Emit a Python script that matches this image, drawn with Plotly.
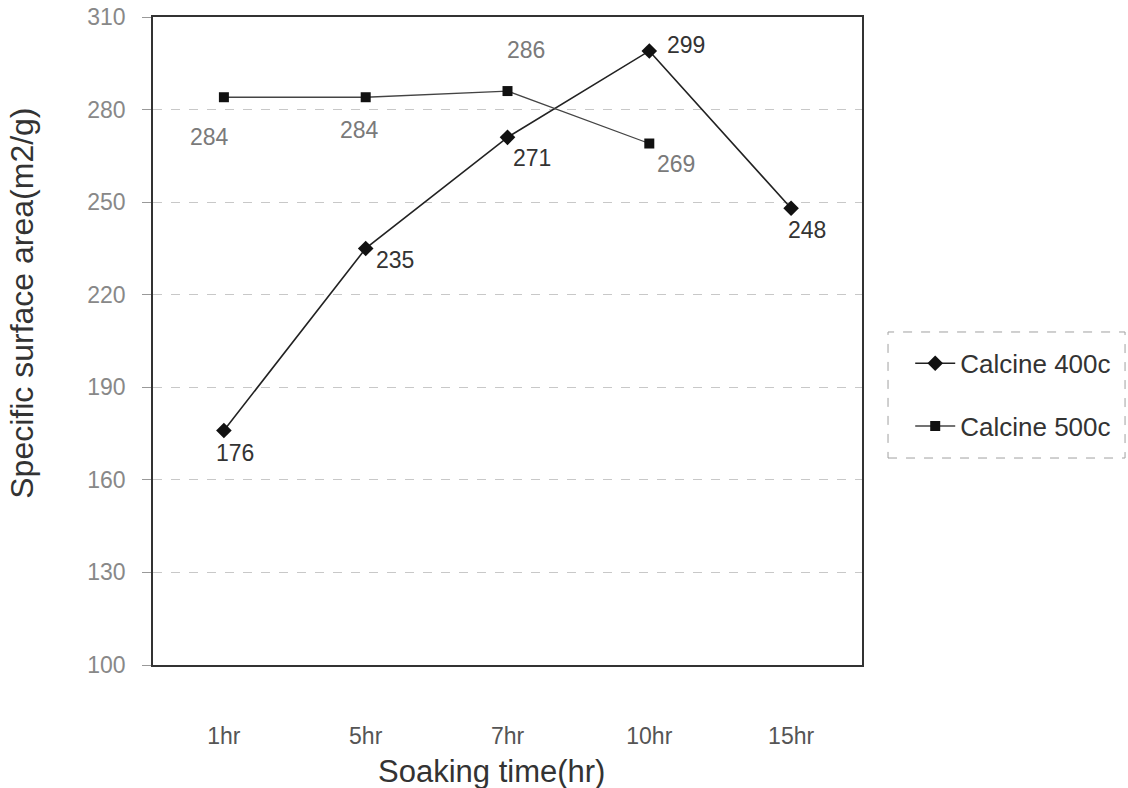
import plotly.graph_objects as go

categories = ["1hr", "5hr", "7hr", "10hr", "15hr"]
calcine_400 = [176, 235, 271, 299, 248]
calcine_500 = [284, 284, 286, 269]
y_ticks = [100, 130, 160, 190, 220, 250, 280, 310]
x_title = "Soaking time(hr)"
y_title = "Specific surface area(m2/g)"

# label offsets in pixels (style only)
off_400 = [(11, -23), (29, -12), (24, -21), (37, 6), (16, -22)]
off_500 = [(-14, -40), (-6, -33), (18, 41), (27, -20)]

FONT = "Liberation Sans, Arial, sans-serif"

fig = go.Figure()
fig.add_trace(go.Scatter(
    x=categories, y=calcine_400, name="Calcine 400c", mode="lines+markers",
    line=dict(color="#222222", width=1.6),
    marker=dict(symbol="diamond", size=12, color="#111111"),
    legendgroup="a",
))
fig.add_trace(go.Scatter(
    x=categories[:len(calcine_500)], y=calcine_500, name="Calcine 500c", mode="lines+markers",
    line=dict(color="#444444", width=1.3),
    marker=dict(symbol="square", size=10, color="#111111"),
    legendgroup="b",
))

anns = []
for c, v, (dx, dy) in zip(categories, calcine_400, off_400):
    anns.append(dict(x=c, y=v, text=str(v), showarrow=False, xshift=dx, yshift=dy,
                     font=dict(family=FONT, size=23, color="#333333")))
for c, v, (dx, dy) in zip(categories, calcine_500, off_500):
    anns.append(dict(x=c, y=v, text=str(v), showarrow=False, xshift=dx, yshift=dy,
                     font=dict(family=FONT, size=23, color="#7a7a7a")))

# axis titles as paper annotations
anns.append(dict(x=0.478, y=-0.165, xref="paper", yref="paper", text=x_title,
                 showarrow=False, xanchor="center", yanchor="middle",
                 font=dict(family=FONT, size=31, color="#333333")))
anns.append(dict(x=-0.1848, y=0.559, xref="paper", yref="paper", text=y_title,
                 showarrow=False, xanchor="center", yanchor="middle", textangle=-90,
                 font=dict(family=FONT, size=32, color="#333333")))

fig.update_layout(
    width=1128, height=788,
    margin=dict(l=153, r=266, t=17, b=123, autoexpand=False),
    paper_bgcolor="white", plot_bgcolor="white",
    font=dict(family=FONT),
    annotations=anns,
    showlegend=True,
    legend=dict(
        x=1.068, xanchor="left", y=0.417, yanchor="middle",
        borderwidth=0, bgcolor="rgba(0,0,0,0)",
        font=dict(family=FONT, size=26, color="#333333"),
        tracegroupgap=26, itemwidth=40,
    ),
    shapes=[dict(type="rect", xref="paper", yref="paper",
                 x0=1.0367, x1=1.371, y0=0.3194, y1=0.5139,
                 line=dict(color="#a0a0a0", width=1, dash="dash"),
                 fillcolor="rgba(0,0,0,0)", layer="below")],
)
fig.update_xaxes(
    type="category", categoryorder="array", categoryarray=categories,
    range=[-0.5, 4.5], automargin=False,
    showline=True, linecolor="#333333", linewidth=1.5, mirror=True,
    showgrid=False, ticks="", ticklabelstandoff=50,
    tickfont=dict(family=FONT, size=23, color="#555555"),
)
fig.update_yaxes(
    range=[100, 310], tickmode="array", tickvals=y_ticks, automargin=False,
    showline=True, linecolor="#333333", linewidth=1.5, mirror=True,
    showgrid=True, gridcolor="#c8c8c8", griddash="dash", gridwidth=1,
    ticks="outside", ticklen=9, tickcolor="#999999",
    ticklabelstandoff=12,
    tickfont=dict(family=FONT, size=23, color="#888888"),
    zeroline=False,
)

fig.write_html("out.html")
